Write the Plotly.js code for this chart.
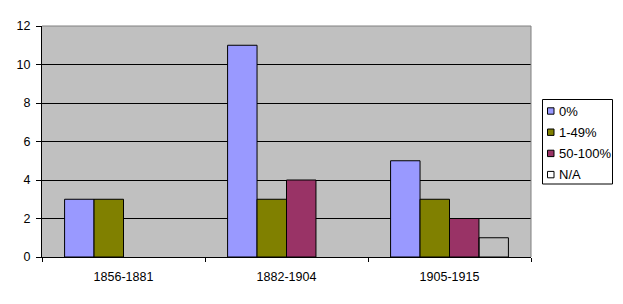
<!DOCTYPE html>
<html>
<head>
<meta charset="utf-8">
<script src="https://cdn.plot.ly/plotly-3.0.1.min.js"></script>
<style>html,body{margin:0;padding:0;background:#fff;}#chart{width:623px;height:304px;}</style>
</head>
<body>
<div id="chart"></div>
<script>
var categories = ["1856-1881", "1882-1904", "1905-1915"];
var seriesNames = ["0%", "1-49%", "50-100%", "N/A"];
var s0 = [3, 11, 5];
var s1 = [3, 3, 3];
var s2 = [null, 4, 2];
var s3 = [null, null, 1];
var yTicks = [0, 2, 4, 6, 8, 10, 12];

var colors = ["#9999FF", "#808000", "#993366", "rgba(255,255,255,0)"];
var legendColors = ["#9999FF", "#808000", "#993366", "#FFFFFF"];
var values = [s0, s1, s2, s3];
var traces = values.map(function (v, i) {
  return {
    type: "bar",
    name: seriesNames[i],
    x: categories,
    y: v,
    marker: {color: colors[i], line: {color: "#000", width: 1}},
    hoverinfo: "none",
    showlegend: false
  };
});

// plot area in pixels
var W = 623, H = 304, L = 42, R = 92, T = 26, B = 47;
var pw = W - L - R, ph = H - T - B;
function px(x) { return (x - L) / pw; }
function py(y) { return (H - B - y) / ph; }

var shapes = [{
  type: "line", xref: "paper", yref: "paper", x0: 0, x1: 1, y0: 1, y1: 1,
  line: {color: "#808080", width: 1}, layer: "above"
}, {
  type: "line", xref: "paper", yref: "paper", x0: 1, x1: 1, y0: 0, y1: 1,
  line: {color: "#808080", width: 1}, layer: "above"
}, {
  type: "rect", xref: "paper", yref: "paper",
  x0: px(542.5), x1: px(612.5), y0: py(184), y1: py(99.5),
  line: {color: "#000", width: 1}, fillcolor: "#fff"
}];
var annotations = [];
seriesNames.forEach(function (name, i) {
  var cy = 111 + i * 21.2;
  shapes.push({
    type: "rect", xref: "paper", yref: "paper",
    x0: px(547.5), x1: px(554), y0: py(cy + 3.2), y1: py(cy - 3.2),
    line: {color: "#000", width: 1}, fillcolor: legendColors[i]
  });
  annotations.push({
    xref: "paper", yref: "paper", x: px(557), y: py(cy),
    xanchor: "left", yanchor: "middle", showarrow: false,
    text: name, font: {size: 13, color: "#000"}
  });
});

var layout = {
  width: W, height: H,
  margin: {l: L, r: R, t: T, b: B, autoexpand: false},
  paper_bgcolor: "#fff",
  plot_bgcolor: "#C0C0C0",
  barmode: "group",
  bargap: 0.277,
  bargroupgap: 0,
  font: {family: "Liberation Sans, Arial, sans-serif", size: 12, color: "#000"},
  xaxis: {
    type: "category",
    showline: true, linecolor: "#000", linewidth: 1,
    ticks: "outside", ticklen: 4, tickcolor: "#000", tickson: "boundaries",
    showgrid: false,
    ticklabelstandoff: 8,
    tickfont: {size: 12.5}
  },
  yaxis: {
    range: [0, 12],
    tickvals: yTicks,
    showline: true, linecolor: "#000", linewidth: 1,
    ticks: "outside", ticklen: 5, tickcolor: "#000",
    showgrid: true, gridcolor: "#000", gridwidth: 1,
    zeroline: false,
    ticklabelstandoff: 3,
    tickfont: {size: 12.5}
  },
  shapes: shapes,
  annotations: annotations,
  showlegend: false
};

Plotly.newPlot("chart", traces, layout, {staticPlot: true, displayModeBar: false});
</script>
</body>
</html>
